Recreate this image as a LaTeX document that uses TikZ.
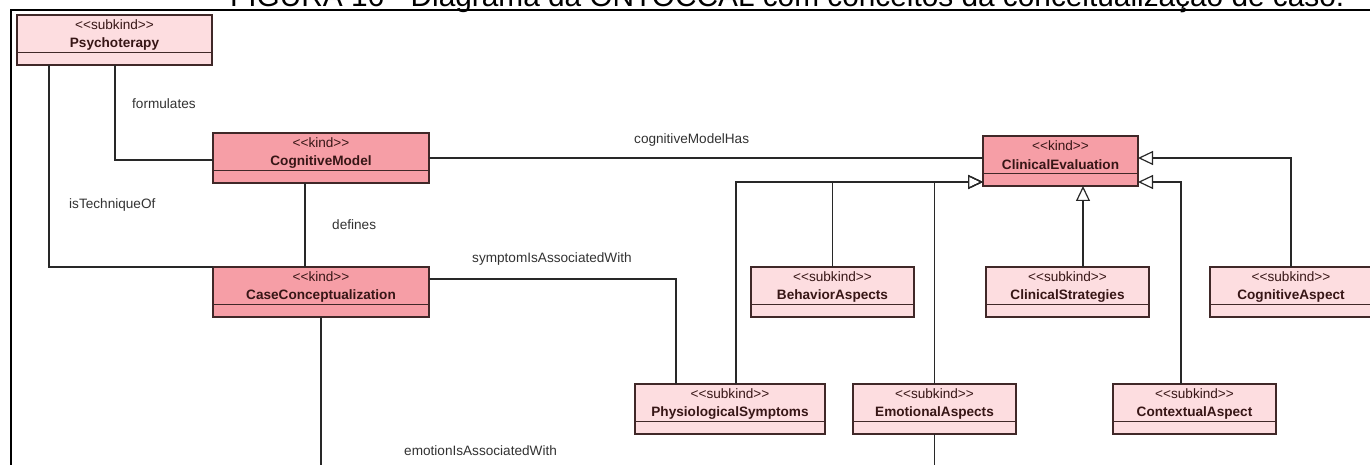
\documentclass[tikz,border=0pt]{standalone}
\usepackage{fontspec}
\setmainfont{Liberation Sans}
\usetikzlibrary{arrows.meta,calc}

\definecolor{kindfill}{RGB}{246,158,166}
\definecolor{subfill}{RGB}{253,221,224}
\definecolor{boxline}{RGB}{64,40,40}
\definecolor{nametext}{RGB}{55,22,22}
\definecolor{wire}{RGB}{40,40,40}
\definecolor{labeltext}{RGB}{50,50,50}

\tikzset{
  classbox/.style={draw=boxline, line width=1.2pt, rectangle, inner sep=0pt,
    outer sep=0pt, anchor=north west, minimum height=50pt,
    path picture={\draw[boxline, line width=1.2pt]
      ([yshift=12.5pt]path picture bounding box.south west) --
      ([yshift=12.5pt]path picture bounding box.south east);}},
  kindbox/.style={classbox, fill=kindfill},
  subkindbox/.style={classbox, fill=subfill},
  stereo/.style={inner sep=0pt, font=\fontsize{13.6}{15}\selectfont, text=nametext},
  cname/.style={inner sep=0pt, font=\fontsize{13.6}{16}\selectfont\bfseries, text=nametext},
  rolelabel/.style={inner sep=0pt, anchor=west, font=\fontsize{13.6}{16}\selectfont, text=labeltext},
  assoc/.style={draw=wire, line width=1.2pt},
  generalization/.style={assoc, -{Triangle[open, length=15pt, width=14pt]}},
}

% stereotype brackets, kept apart so they stay two angle brackets
\newcommand\stype[1]{<{}<#1>{}>}

% class box: id, style, x, y (top left), width, stereotype, name
\newcommand\umlclass[7]{%
  \node[#2, minimum width=#5pt] (#1) at (#3,#4) {};
  \node[stereo] (#1-st) at ($(#1.north)+(0,10)$) {\stype{#6}};
  \node[cname] (#1-nm) at ($(#1.north)+(0,29)$) {#7};
}

\begin{document}
\begin{tikzpicture}[x=1pt, y=-1pt]
\useasboundingbox (0,0) rectangle (1370,465);
\clip (0,0) rectangle (1370,465);

% caption and frame
\node[anchor=base west, inner sep=0pt, font=\fontsize{29.8}{32}\selectfont] (title) at (230,7)
  {FIGURA 16 - Diagrama da ONTOCCAL com conceitos da conceitualização de caso.};
\draw[line width=2pt] (1380,10) -| (10.5,480);

% classes
\umlclass{psy}{subkindbox}{17}{15}{195}{subkind}{Psychoterapy}
\umlclass{cm}{kindbox}{213}{133}{216}{kind}{CognitiveModel}
\umlclass{cc}{kindbox}{213}{267}{216}{kind}{CaseConceptualization}
\umlclass{ce}{kindbox}{983}{136}{155}{kind}{ClinicalEvaluation}
\umlclass{beh}{subkindbox}{751}{267}{163}{subkind}{BehaviorAspects}
\umlclass{cls}{subkindbox}{986}{267}{163}{subkind}{ClinicalStrategies}
\umlclass{cga}{subkindbox}{1210}{267}{162}{subkind}{CognitiveAspect}
\umlclass{phy}{subkindbox}{635}{384}{190}{subkind}{PhysiologicalSymptoms}
\umlclass{emo}{subkindbox}{853}{384}{163}{subkind}{EmotionalAspects}
\umlclass{ctx}{subkindbox}{1113}{384}{163}{subkind}{ContextualAspect}

% associations
\draw[assoc] ($(psy.south west)+(98,0)$) |- ($(cm.north west)+(0,27)$);
\draw[assoc] ($(psy.south west)+(32,0)$) |- (cc.north west);
\draw[assoc] ($(cm.south west)+(92,0)$) -- ($(cc.north west)+(92,0)$);
\draw[assoc] (cm.east) -- (cm.east -| ce.west);
\draw[assoc] ($(cc.north east)+(0,12)$) -| ($(phy.north west)+(41,0)$);
\draw[assoc] (cc.south) -- ($(cc.south)+(0,190)$) -| (emo.south);

% generalizations
\coordinate (genL) at ($(ce.south west)+(0,-4)$);
\coordinate (genR) at ($(ce.south east)+(0,-4)$);
\draw[generalization] ($(phy.north west)+(101,0)$) |- (genL);
\draw[generalization] (beh.north) |- (genL);
\draw[generalization] (emo.north) |- (genL);
\draw[generalization] (cga.north) |- ($(ce.north east)+(0,22)$);
\draw[generalization] ($(ctx.north west)+(68,0)$) |- (genR);
\draw[generalization] ($(cls.north west)+(97,0)$) -- ($(ce.south west)+(100,0)$);

% association names
\node[rolelabel] (lbl-form) at (132,104) {formulates};
\node[rolelabel] (lbl-tech) at (69,205) {isTechniqueOf};
\node[rolelabel] (lbl-def) at (332,225) {defines};
\node[rolelabel] (lbl-cmh) at (634,140) {cognitiveModelHas};
\node[rolelabel] (lbl-sym) at (472,259) {symptomIsAssociatedWith};
\node[rolelabel] (lbl-emo) at (404,451) {emotionIsAssociatedWith};
\end{tikzpicture}
\end{document}
